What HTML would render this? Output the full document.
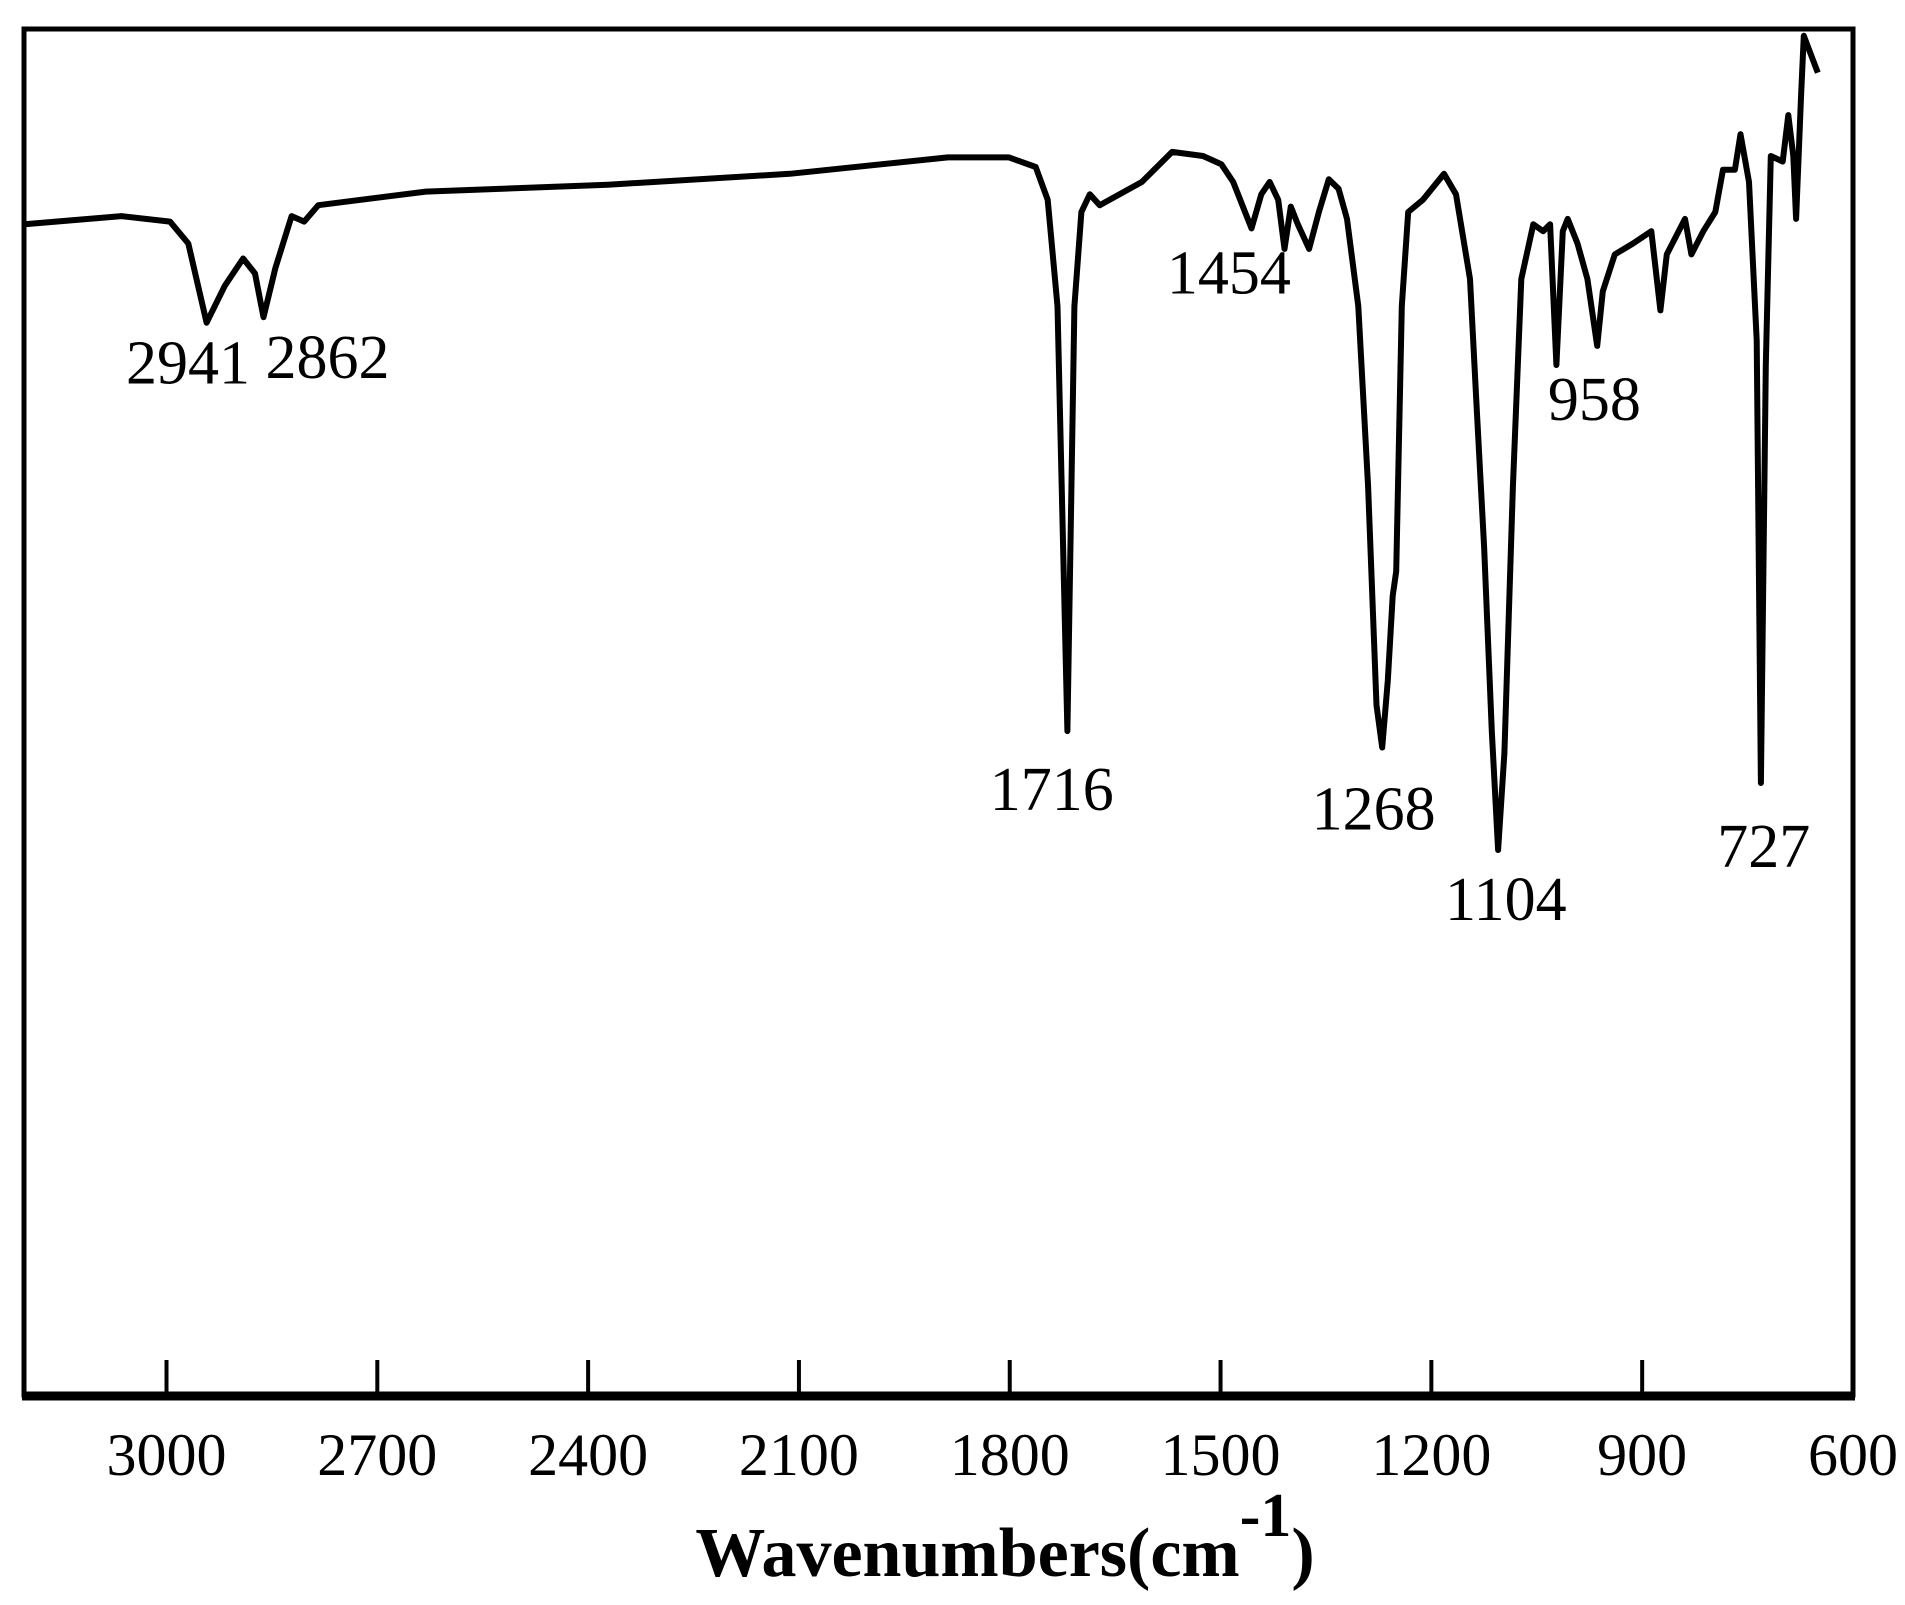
<!DOCTYPE html>
<html><head><meta charset="utf-8"><style>
html,body{margin:0;padding:0;background:#fff;}
svg{display:block;font-family:"Liberation Serif",serif;}
</style></head><body>
<svg id="chart" width="1905" height="1605" viewBox="0 0 1905 1605" xmlns="http://www.w3.org/2000/svg">
<rect x="24" y="29" width="1829" height="1366" fill="none" stroke="#000" stroke-width="5"/>
<line x1="22" y1="1396" x2="1855" y2="1396" stroke="#000" stroke-width="9"/>
<g id="ticks"></g>
<path id="trace" fill="none" stroke="#000" stroke-width="6" stroke-linejoin="round"/>
<g id="peaks"></g>
<text x="1005" y="1576" text-anchor="middle" font-size="70" font-weight="bold">Wavenumbers(cm<tspan dy="-40" font-size="62">-1</tspan><tspan dy="40">)</tspan></text>
</svg>
<script>
const wavenumbers=[3202,3064,2995,2969,2943,2917,2891,2874,2862,2845,2822,2804,2784,2631,2372,2113,1888,1801,1763,1746,1732,1718,1708,1698,1686,1672,1612,1569,1525,1499,1482,1456,1442,1430,1418,1409,1400,1390,1374,1360,1346,1332,1320,1304,1290,1278,1270,1262,1255,1250,1242,1233,1212,1182,1165,1145,1136,1125,1114,1105,1096,1084,1072,1055,1041,1031,1022,1013,1006,992,978,964,956,939,913,887,874,865,839,830,813,796,785,768,760,748,737,731,724,717,700,692,685,681,674,670,650];
const transmittance=[85.7,86.3,85.9,84.3,78.5,81.2,83.2,82.1,78.9,82.5,86.3,85.9,87.1,88.1,88.6,89.4,90.6,90.6,89.9,87.5,79.7,48.6,79.7,86.6,87.9,87.1,88.8,91.0,90.7,90.1,88.8,85.4,87.9,88.8,87.5,83.9,87.0,85.7,83.9,86.6,89.0,88.3,86.1,79.7,66.5,50.5,47.4,52.3,58.5,60.3,79.7,86.6,87.5,89.4,87.9,81.7,72.8,62.1,48.6,39.9,47.0,66.5,81.7,85.7,85.2,85.7,75.4,85.2,86.1,84.3,81.7,76.8,80.8,83.5,84.3,85.2,79.4,83.5,86.1,83.5,85.2,86.6,89.7,89.7,92.3,88.8,77.2,44.8,75.4,90.7,90.3,93.7,90.7,86.1,95.0,99.5,96.8,82.1];
const tickValues=[3000,2700,2400,2100,1800,1500,1200,900,600];
const tickLabels=["3000","2700","2400","2100","1800","1500","1200","900","600"];
const peakNames=["2941","2862","1454","1716","1268","1104","958","727"];
const peakX=[2941,2862,1454,1716,1268,1104,958,727];
const peakT=[78.5,78.9,85.4,48.6,47.4,39.9,76.8,44.8];
const peakOffset=[61,61,65,79,82,70,74,84];
const peakShift=[-20,64,-24,-17,-10,7,-7,0];

const NS="http://www.w3.org/2000/svg";
function xs(w){return 166.5+(3000-w)*0.7027;}
function ys(t){return 1395-t*13.66;}
let d="";
for(let i=0;i<wavenumbers.length;i++){d+=(i?"L":"M")+xs(wavenumbers[i]).toFixed(1)+" "+ys(transmittance[i]).toFixed(1);}
document.getElementById("trace").setAttribute("d",d);
const tg=document.getElementById("ticks");
tickValues.forEach((v,i)=>{
  const x=xs(v);
  if(i<tickValues.length-1){
    const l=document.createElementNS(NS,"line");
    
    
    l.setAttribute("x1",x);l.setAttribute("x2",x);l.setAttribute("y1",1360);l.setAttribute("y2",1395);
    l.setAttribute("stroke","#000");l.setAttribute("stroke-width","4");
    tg.appendChild(l);
  }
  const t=document.createElementNS(NS,"text");
  
  
  t.setAttribute("x",Math.min(x,1862));t.setAttribute("y",1475);t.setAttribute("text-anchor","middle");t.setAttribute("font-size","60");
  t.textContent=tickLabels[i];tg.appendChild(t);
});
const pg=document.getElementById("peaks");
peakNames.forEach((n,i)=>{
  const t=document.createElementNS(NS,"text");
  
  
  t.setAttribute("x",xs(peakX[i])+peakShift[i]);t.setAttribute("y",ys(peakT[i])+peakOffset[i]);
  t.setAttribute("text-anchor","middle");t.setAttribute("font-size","62");
  t.textContent=n;pg.appendChild(t);
});
</script>
</body></html>
